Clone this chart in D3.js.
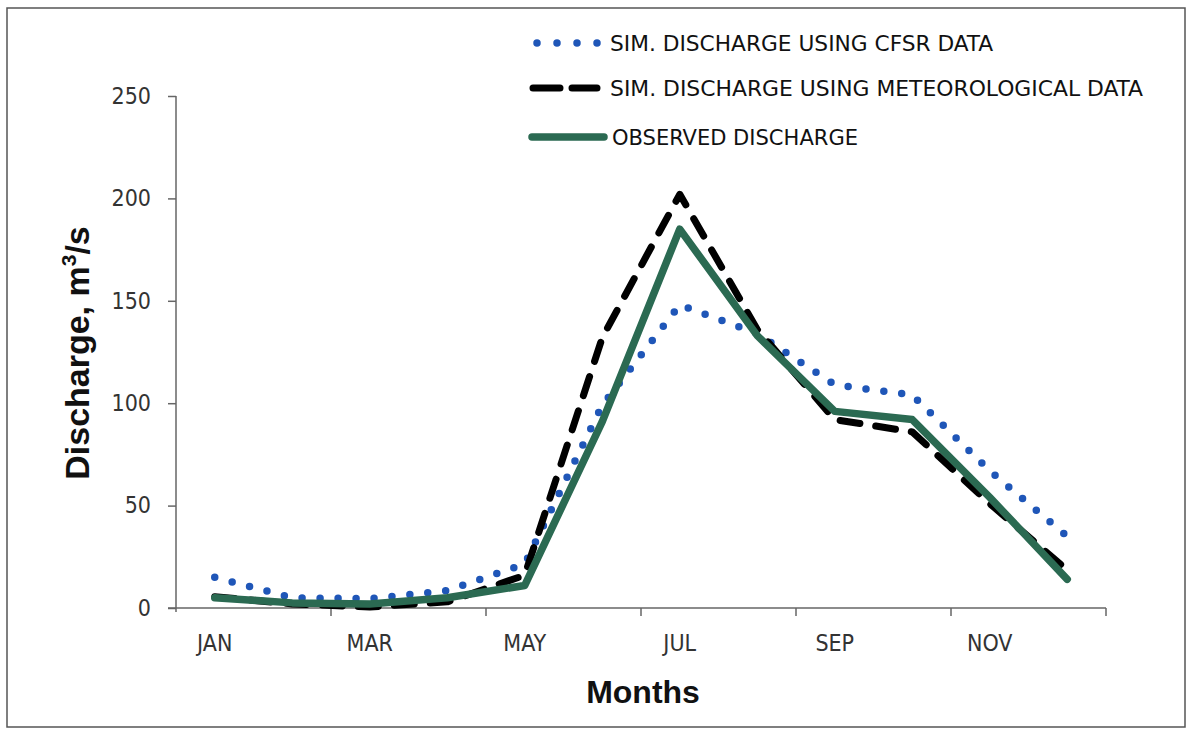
<!DOCTYPE html>
<html>
<head>
<meta charset="utf-8">
<script src="https://cdn.jsdelivr.net/npm/d3@7"></script>
<style>
  html, body { margin: 0; padding: 0; background: #fff; }
  svg { display: block; }
</style>
</head>
<body>
<svg id="chart" width="1191" height="732"></svg>
<script>
// Monthly mean discharge (m³/s)
const months = ["JAN","FEB","MAR","APR","MAY","JUN","JUL","AUG","SEP","OCT","NOV","DEC"];
const simCfsr = [15, 5, 4.5, 8.5, 21.5, 99, 148, 134, 109, 104, 67, 35];
const simMet  = [5.5, 2, 0.5, 3, 16, 132, 202, 136, 92, 86, 51, 18.5];
const observed = [5, 2.5, 2, 5, 11, 91, 185, 133, 96, 92, 54, 14];
const yTicks = [0, 50, 100, 150, 200, 250];
const xLabelMonths = ["JAN","MAR","MAY","JUL","SEP","NOV"];

const svg = d3.select("#chart");
const plot = { left: 176, right: 1106, top: 96, bottom: 608 };

const narrow = "'Liberation Sans Narrow','DejaVu Sans Condensed','Open Sans',sans-serif";
const bold = "'Liberation Sans',Arial,sans-serif";

// outer frame
svg.append("rect")
  .attr("x", 7).attr("y", 8).attr("width", 1178).attr("height", 719)
  .attr("fill", "#fff").attr("stroke", "#555").attr("stroke-width", 1.5);

const x = d3.scaleBand().domain(months).range([plot.left, plot.right]).padding(0);
const y = d3.scaleLinear().domain([0, 250]).range([plot.bottom, plot.top]);
const cx = m => x(m) + x.bandwidth() / 2;

// y axis
const yAxis = svg.append("g")
  .attr("transform", `translate(${plot.left},0)`)
  .call(d3.axisLeft(y).tickValues(yTicks).tickSize(8).tickPadding(17).tickFormat(d3.format("d")));
yAxis.select(".domain").attr("stroke", "#666").attr("stroke-width", 1.5).attr("d", `M0,${plot.top}V${plot.bottom + 4}`);
yAxis.selectAll(".tick line").attr("stroke", "#666").attr("stroke-width", 1.5);
yAxis.selectAll(".tick text")
  .attr("font-family", narrow).attr("font-size", 23).attr("fill", "#333");

// x axis: line, tick marks on every second band boundary, labels centred on bands
const xAxis = svg.append("g").attr("transform", `translate(0,${plot.bottom})`);
xAxis.append("line")
  .attr("x1", plot.left - 8).attr("x2", plot.right)
  .attr("stroke", "#666").attr("stroke-width", 1.5);
const boundaries = months.filter((m, i) => i % 2 === 0).map(m => x(m)).concat([plot.right]);
xAxis.selectAll("line.tk").data(boundaries.slice(1)).join("line")
  .attr("class", "tk")
  .attr("x1", d => d).attr("x2", d => d).attr("y1", 0).attr("y2", 8)
  .attr("stroke", "#666").attr("stroke-width", 1.5);
xAxis.selectAll("text").data(xLabelMonths).join("text")
  .attr("x", d => cx(d)).attr("y", 43)
  .attr("text-anchor", "middle")
  .attr("font-family", narrow).attr("font-size", 23).attr("fill", "#333")
  .text(d => d);

// axis titles
svg.append("text")
  .attr("x", 643).attr("y", 703)
  .attr("text-anchor", "middle")
  .attr("font-family", bold).attr("font-weight", "bold").attr("font-size", 32)
  .attr("fill", "#111")
  .text("Months");

const yTitle = svg.append("text")
  .attr("transform", `translate(89,353) rotate(-90)`)
  .attr("text-anchor", "middle")
  .attr("font-family", bold).attr("font-weight", "bold").attr("font-size", 34)
  .attr("fill", "#111");
yTitle.append("tspan").text("Discharge, m");
yTitle.append("tspan").attr("font-size", 21).attr("dy", -13).text("3");
yTitle.append("tspan").attr("dy", 13).text("/s");

// series
const series = [
  { name: "SIM. DISCHARGE USING CFSR DATA", values: simCfsr, color: "#1f56b8", width: 7.5, dash: "0 18", cap: "round" },
  { name: "SIM. DISCHARGE USING METEOROLOGICAL DATA", values: simMet, color: "#000", width: 7, dash: "20 16", cap: "round" },
  { name: "OBSERVED DISCHARGE", values: observed, color: "#2b6a52", width: 7.5, dash: null, cap: "round" }
];

const line = d3.line().x(d => cx(d.m)).y(d => y(d.v));

svg.append("g").selectAll("path").data(series).join("path")
  .attr("d", s => line(months.map((m, i) => ({ m, v: s.values[i] }))))
  .attr("fill", "none")
  .attr("stroke", s => s.color)
  .attr("stroke-width", s => s.width)
  .attr("stroke-linecap", s => s.cap)
  .attr("stroke-linejoin", "round")
  .attr("stroke-dasharray", s => s.dash);

// legend
const legendRows = [
  { y: 43, x1: 537, x2: 598, text: 610, len: 383 },
  { y: 88, x1: 533, x2: 597, text: 610, len: 533 },
  { y: 137, x1: 532, x2: 604, text: 612, len: 246 }
];
const lg = svg.append("g");
series.forEach((s, i) => {
  const r = legendRows[i];
  lg.append("line")
    .attr("x1", r.x1).attr("x2", r.x2).attr("y1", r.y).attr("y2", r.y)
    .attr("stroke", s.color).attr("stroke-width", s.width)
    .attr("stroke-linecap", s.cap)
    .attr("stroke-dasharray", i === 0 ? "0 20" : i === 1 ? "27 12" : null);
  lg.append("text")
    .attr("x", r.text).attr("y", r.y + 8)
    .attr("font-family", narrow).attr("font-size", 22).attr("fill", "#111")
    .attr("textLength", r.len).attr("lengthAdjust", "spacingAndGlyphs")
    .text(s.name);
});
</script>
</body>
</html>
